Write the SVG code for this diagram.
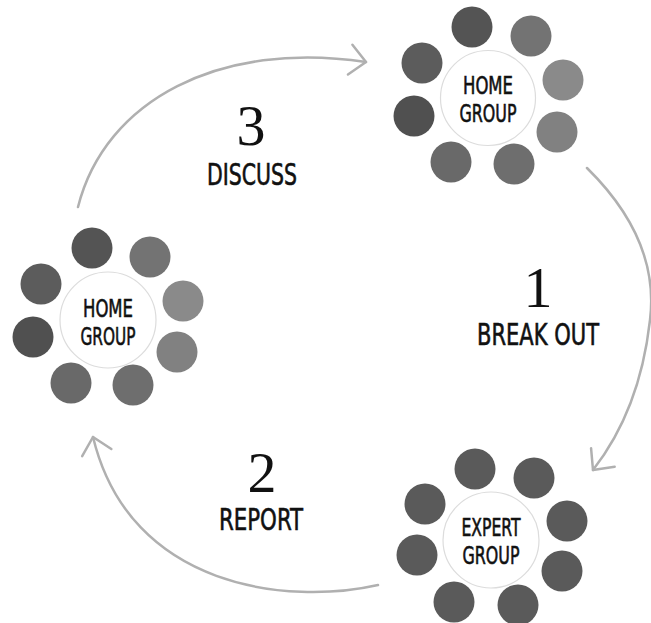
<svg xmlns="http://www.w3.org/2000/svg" width="651" height="623" viewBox="0 0 651 623">
  <style>
    .hub { fill: #ffffff; stroke: #dcdcdc; stroke-width: 1.2; }
    .seat { stroke: none; }
    .d1 { fill: #545454; }
    .d2 { fill: #737373; }
    .d3 { fill: #8a8a8a; }
    .d4 { fill: #818181; }
    .d5 { fill: #6e6e6e; }
    .d6 { fill: #696969; }
    .d7 { fill: #505050; }
    .d8 { fill: #5c5c5c; }
    .ex { fill: #5a5a5a; }
    .label { font-family: "Liberation Sans Narrow", "DejaVu Sans Condensed", "Liberation Sans", sans-serif; fill: #111111; stroke: #111111; stroke-width: 0.6; text-anchor: middle; }
    .small { font-size: 25px; }
    .step { font-size: 31px; }
    .num { font-family: "Liberation Serif", "DejaVu Serif", serif; font-size: 58px; fill: #111111; text-anchor: middle; }
    .flow { fill: none; stroke: #b0b0b0; stroke-width: 2.5; stroke-linecap: round; marker-end: url(#chev); }
  </style>
  <defs>
    <marker id="chev" markerUnits="userSpaceOnUse" markerWidth="40" markerHeight="40" refX="0" refY="0" orient="auto" viewBox="-20 -20 40 40" overflow="visible">
      <path d="M-16,-15 L0,0 L-16,15" fill="none" stroke="#b0b0b0" stroke-width="2.5" stroke-linecap="round" stroke-linejoin="round"/>
    </marker>
  </defs>

  <rect width="651" height="623" fill="#ffffff"/>

  <!-- connectors -->
  <g id="connectors">
    <path class="flow" d="M78,207 C105,100 220,40 366,62"/>
    <path class="flow" d="M587,168 Q660,240 650,320 Q640,410 593,470"/>
    <path class="flow" d="M378,585 C290,605 130,590 93,437"/>
  </g>

  <!-- home group, upper right -->
  <g id="home-group-top" transform="translate(488,98)">
    <circle class="seat d1" cx="-16" cy="-71" r="20.5"/>
    <circle class="seat d2" cx="43" cy="-62" r="20.5"/>
    <circle class="seat d3" cx="75" cy="-18" r="20.5"/>
    <circle class="seat d4" cx="69" cy="34" r="20.5"/>
    <circle class="seat d5" cx="26" cy="66" r="20.5"/>
    <circle class="seat d6" cx="-37" cy="64" r="20.5"/>
    <circle class="seat d7" cx="-74" cy="18" r="20.5"/>
    <circle class="seat d8" cx="-66" cy="-35" r="20.5"/>
    <circle class="hub" cx="0" cy="0" r="47.5"/>
    <text class="label small" x="0" y="-4" textLength="50" lengthAdjust="spacingAndGlyphs">HOME</text>
    <text class="label small" x="0" y="24" textLength="57" lengthAdjust="spacingAndGlyphs">GROUP</text>
  </g>

  <!-- home group, left -->
  <g id="home-group-left" transform="translate(108,320)">
    <circle class="seat d1" cx="-16" cy="-72" r="20.5"/>
    <circle class="seat d2" cx="42" cy="-63" r="20.5"/>
    <circle class="seat d3" cx="75" cy="-19" r="20.5"/>
    <circle class="seat d4" cx="69" cy="32" r="20.5"/>
    <circle class="seat d5" cx="25" cy="65" r="20.5"/>
    <circle class="seat d6" cx="-37" cy="63" r="20.5"/>
    <circle class="seat d7" cx="-75" cy="17" r="20.5"/>
    <circle class="seat d8" cx="-67" cy="-36" r="20.5"/>
    <circle class="hub" cx="0" cy="0" r="48"/>
    <text class="label small" x="0" y="-3" textLength="50" lengthAdjust="spacingAndGlyphs">HOME</text>
    <text class="label small" x="0" y="25" textLength="55" lengthAdjust="spacingAndGlyphs">GROUP</text>
  </g>

  <!-- expert group, lower right -->
  <g id="expert-group" transform="translate(491,540)">
    <circle class="seat ex" cx="-16" cy="-71" r="20.5"/>
    <circle class="seat ex" cx="43" cy="-62" r="20.5"/>
    <circle class="seat ex" cx="76" cy="-19" r="20.5"/>
    <circle class="seat ex" cx="71" cy="31" r="20.5"/>
    <circle class="seat ex" cx="27" cy="65" r="20.5"/>
    <circle class="seat ex" cx="-37" cy="62" r="20.5"/>
    <circle class="seat ex" cx="-74" cy="15" r="20.5"/>
    <circle class="seat ex" cx="-66" cy="-36" r="20.5"/>
    <circle class="hub" cx="0" cy="0" r="48"/>
    <text class="label small" x="0" y="-4" textLength="59" lengthAdjust="spacingAndGlyphs">EXPERT</text>
    <text class="label small" x="0" y="24" textLength="57" lengthAdjust="spacingAndGlyphs">GROUP</text>
  </g>

  <!-- step captions -->
  <g id="step-1">
    <text class="num" x="538" y="307">1</text>
    <text class="label step" x="538" y="345" textLength="122" lengthAdjust="spacingAndGlyphs">BREAK OUT</text>
  </g>
  <g id="step-2">
    <text class="num" x="262" y="492">2</text>
    <text class="label step" x="261" y="530" textLength="84" lengthAdjust="spacingAndGlyphs">REPORT</text>
  </g>
  <g id="step-3">
    <text class="num" x="251" y="145">3</text>
    <text class="label step" x="252" y="185" textLength="90" lengthAdjust="spacingAndGlyphs">DISCUSS</text>
  </g>
</svg>
